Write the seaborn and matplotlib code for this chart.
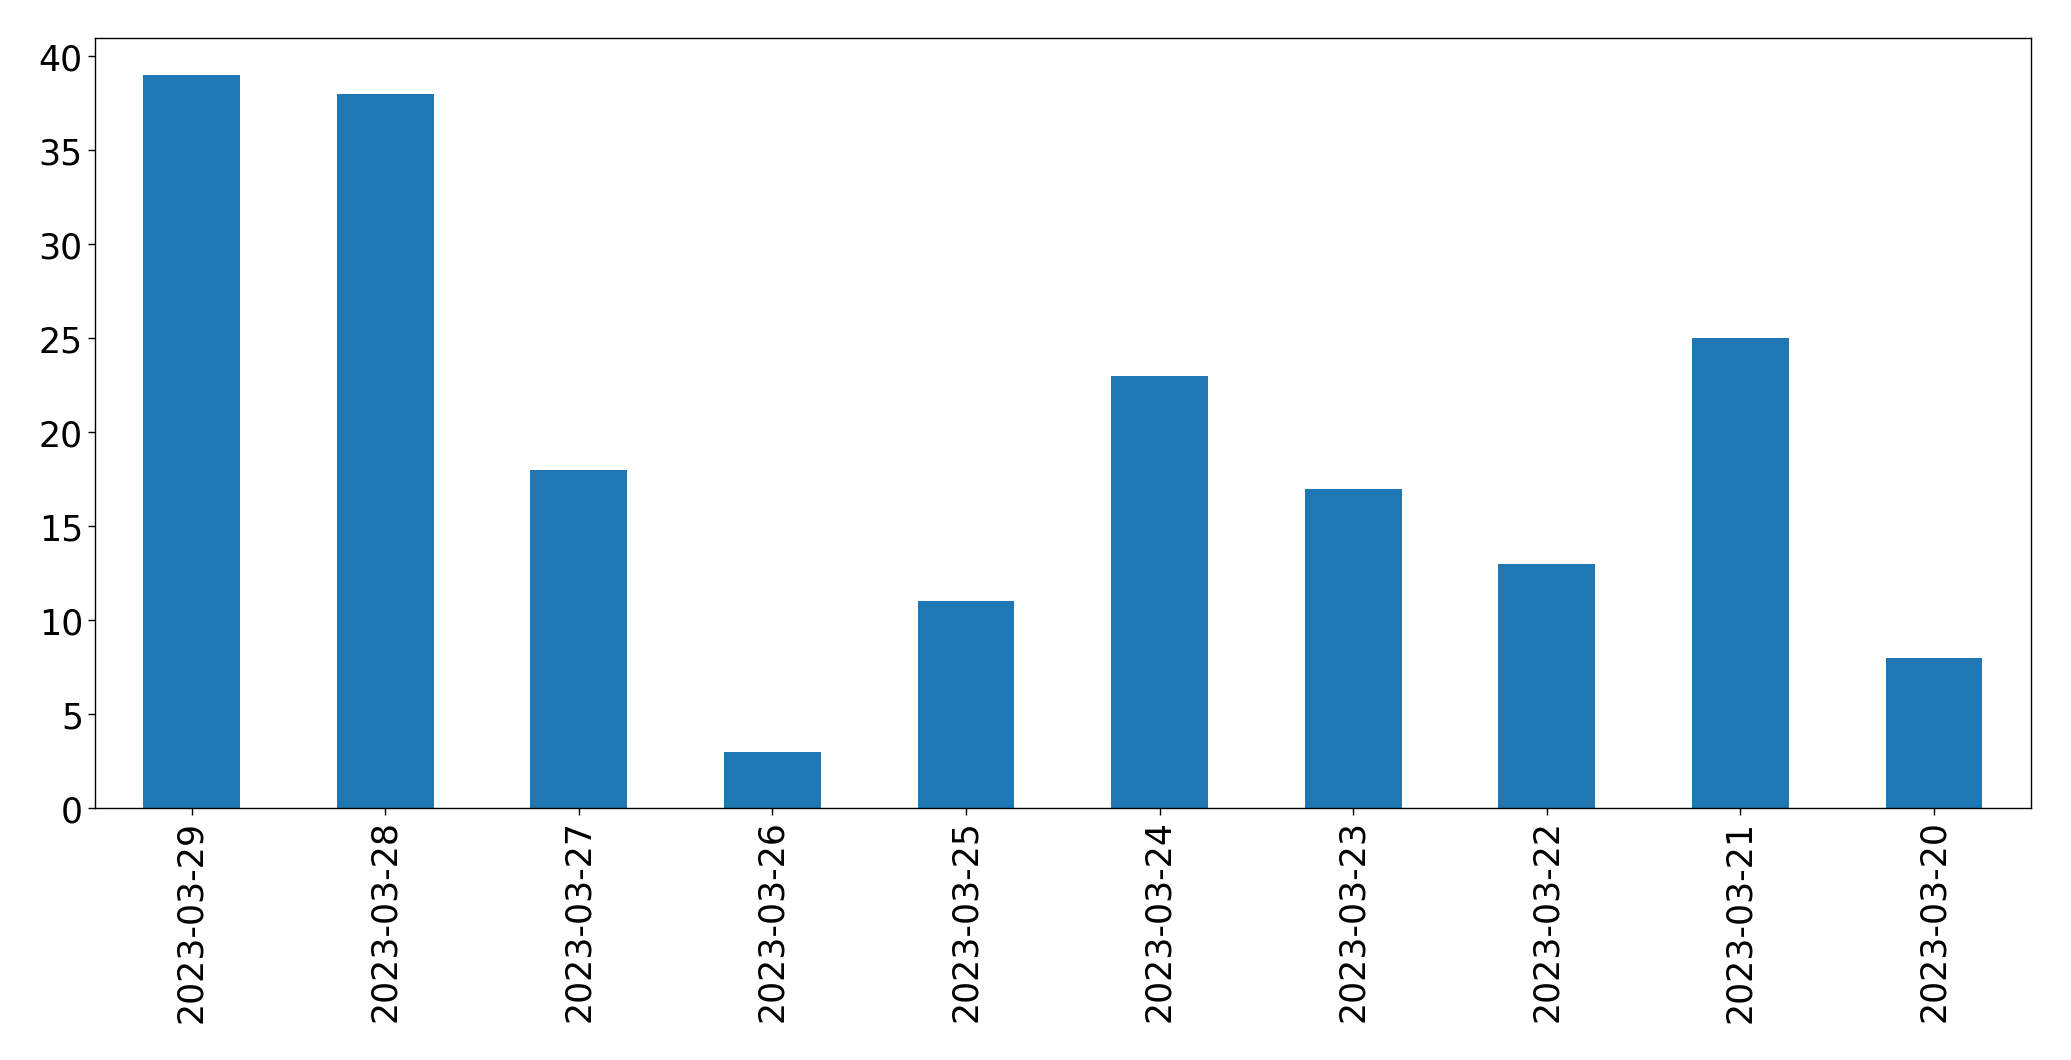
import matplotlib
matplotlib.use("Agg")
import matplotlib.pyplot as plt
import seaborn as sns
import pandas as pd

dates = ["2023-03-29", "2023-03-28", "2023-03-27", "2023-03-26", "2023-03-25",
         "2023-03-24", "2023-03-23", "2023-03-22", "2023-03-21", "2023-03-20"]
counts = [39, 38, 18, 3, 11, 23, 17, 13, 25, 8]

sns.set_style("white")
plt.rcParams['font.family'] = ['DejaVu Sans']
plt.rcParams['xtick.bottom'] = True
plt.rcParams['ytick.left'] = True
plt.rcParams['text.color'] = 'black'
plt.rcParams['xtick.color'] = 'black'
plt.rcParams['ytick.color'] = 'black'
plt.rcParams['axes.labelcolor'] = 'black'

df = pd.DataFrame({"date": dates, "count": counts})

fig = plt.figure(figsize=(20.71, 10.605), dpi=100)
ax = fig.add_axes([94.7 / 2071, 1 - 809 / 1061, 1936 / 2071, 770 / 1061])
sns.barplot(data=df, x="date", y="count", order=dates, color="#1f77b4",
            saturation=1, width=0.5, ax=ax, edgecolor="none", linewidth=0)
ax.set_xlim(-0.5, len(dates) - 0.5)
ax.set_ylim(0, max(counts) * 1.05)
ax.set_xlabel("")
ax.set_ylabel("")
ax.tick_params(axis="both", labelsize=25, length=5, width=1, color="black",
               labelcolor="black")
ax.tick_params(axis="x", labelrotation=90)
for s in ax.spines.values():
    s.set_color("black")
    s.set_linewidth(1)
    s.set_visible(True)
fig.savefig("out.png", dpi=100, facecolor="white")
